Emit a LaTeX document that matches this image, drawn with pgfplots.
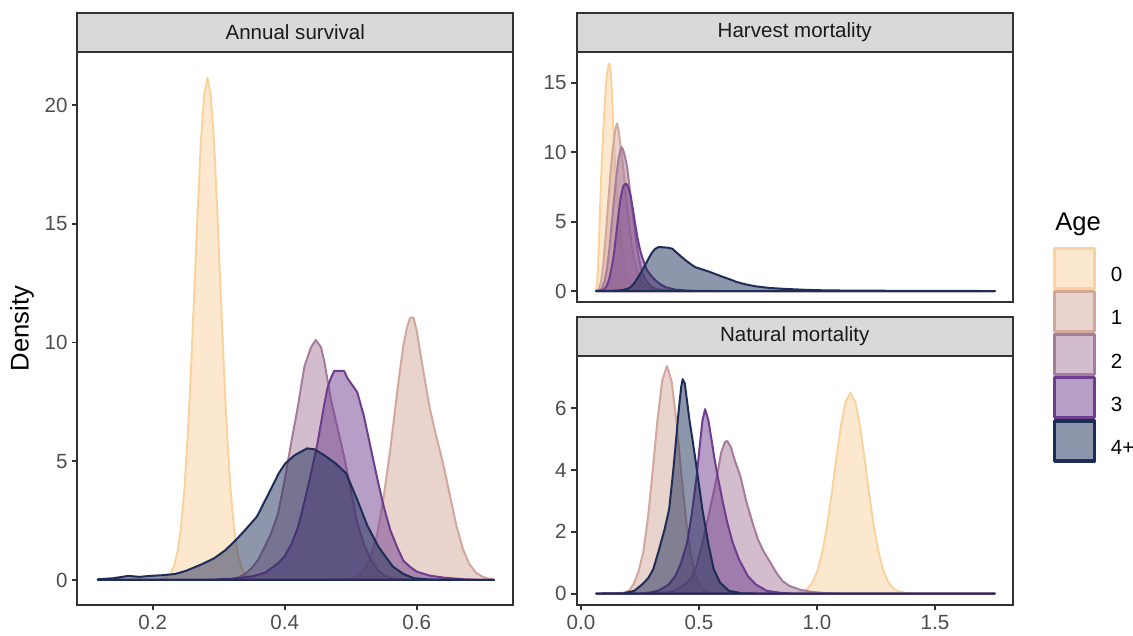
\documentclass[border=0pt]{standalone}
\usepackage{fontspec}
\setmainfont{Liberation Sans}
\usepackage{pgfplots}
\pgfplotsset{compat=1.18}
\definecolor{c0}{HTML}{F9D29E}
\definecolor{c1}{HTML}{D2A79C}
\definecolor{c2}{HTML}{A77B9C}
\definecolor{c3}{HTML}{6E3D8D}
\definecolor{c4}{HTML}{1E2D58}
\definecolor{axdark}{HTML}{333333}
\definecolor{tickgray}{HTML}{4D4D4D}
\definecolor{stripgray}{HTML}{D9D9D9}
\definecolor{striptext}{HTML}{1A1A1A}
\newcommand{\ticksize}{\fontsize{15.4}{18}\selectfont}
\newcommand{\titlesize}{\fontsize{19.2}{22}\selectfont}
\newcommand{\strip}[1]{%
  \draw[fill=stripgray, draw=axdark, line width=1.5pt] (rel axis cs:0,1) rectangle ([yshift=29.5pt]rel axis cs:1,1);
  \node[font=\ticksize, text=striptext, inner sep=0pt] at ([yshift=14.75pt]rel axis cs:0.5,1) {#1};}
\pgfplotsset{
  panel/.style={
    scale only axis, axis on top, clip=false,
    axis line style={draw=axdark, line width=1.5pt},
    every tick/.style={draw=axdark, line width=1.4pt},
    major tick length=4pt,
    tick align=outside,
    xtick pos=bottom, ytick pos=left,
    tick label style={font=\ticksize, text=tickgray},
    /pgf/number format/assume math mode=true,
    scaled ticks=false,
    x tick label style={/pgf/number format/fixed, /pgf/number format/fixed zerofill, /pgf/number format/precision=1},
  },
  d0/.style={draw=c0, fill=c0, fill opacity=0.5, draw opacity=1, line width=1.5pt, line join=round},
  d1/.style={draw=c1, fill=c1, fill opacity=0.5, draw opacity=1, line width=1.5pt, line join=round},
  d2/.style={draw=c2, fill=c2, fill opacity=0.5, draw opacity=1, line width=1.5pt, line join=round},
  d3/.style={draw=c3, fill=c3, fill opacity=0.5, draw opacity=1, line width=1.5pt, line join=round},
  d4/.style={draw=c4, fill=c4, fill opacity=0.5, draw opacity=1, line width=1.5pt, line join=round},
}
\begin{document}
\begin{tikzpicture}
\useasboundingbox (0pt,0pt) rectangle (849.75pt,477pt);

% ---------------- Annual survival ----------------
\begin{axis}[panel, at={(58.125pt,23.25pt)}, anchor=south west,
  width=326.625pt, height=414.75pt,
  xmin=0.0861, xmax=0.7459, ymin=-1.055, ymax=22.23,
  xtick={0.2,0.4,0.6}, ytick={0,5,10,15,20}]
\addplot[d0] coordinates {(0.117,0) (0.20,0) (0.213,0.02) (0.223,0.14) (0.228,0.31) (0.233,0.64) (0.238,1.24) (0.243,2.25) (0.248,3.8) (0.253,6.0) (0.258,8.82) (0.263,12.08) (0.268,15.43) (0.273,18.39) (0.278,20.42) (0.283,21.15) (0.288,20.42) (0.293,18.39) (0.298,15.43) (0.303,12.08) (0.308,8.82) (0.313,6.0) (0.318,3.8) (0.323,2.25) (0.328,1.24) (0.333,0.64) (0.338,0.31) (0.343,0.14) (0.353,0.02) (0.37,0) (0.717,0)} \closedcycle;
\addplot[d1] coordinates {(0.117,0) (0.46,0) (0.48,0.02) (0.50,0.06) (0.51,0.15) (0.52,0.4) (0.53,0.95) (0.54,1.9) (0.55,3.5) (0.56,5.5) (0.57,7.8) (0.575,8.9) (0.58,9.9) (0.585,10.6) (0.59,11.05) (0.595,11.05) (0.60,10.5) (0.61,8.8) (0.62,7.2) (0.63,6.0) (0.64,4.9) (0.65,3.6) (0.66,2.3) (0.67,1.3) (0.68,0.65) (0.69,0.3) (0.70,0.13) (0.71,0.05) (0.717,0.02)} \closedcycle;
\addplot[d2] coordinates {(0.117,0) (0.30,0) (0.32,0.03) (0.33,0.1) (0.34,0.25) (0.35,0.5) (0.36,0.85) (0.37,1.4) (0.38,2.0) (0.39,2.8) (0.40,4.2) (0.41,5.8) (0.42,7.3) (0.43,9.0) (0.435,9.4) (0.44,9.8) (0.447,10.1) (0.455,9.8) (0.46,9.2) (0.47,7.6) (0.48,6.4) (0.49,5.2) (0.50,3.8) (0.51,2.4) (0.52,1.5) (0.53,0.9) (0.54,0.45) (0.55,0.2) (0.56,0.08) (0.58,0.02) (0.60,0) (0.717,0)} \closedcycle;
\addplot[d3] coordinates {(0.117,0) (0.28,0) (0.32,0.05) (0.35,0.15) (0.37,0.3) (0.39,0.7) (0.40,1.0) (0.41,1.5) (0.42,2.2) (0.43,3.3) (0.44,4.5) (0.45,5.8) (0.46,7.4) (0.465,8.1) (0.47,8.5) (0.475,8.8) (0.49,8.8) (0.495,8.5) (0.505,8.1) (0.51,7.9) (0.52,6.9) (0.53,5.6) (0.54,4.3) (0.55,3.1) (0.56,2.1) (0.57,1.4) (0.58,0.8) (0.59,0.55) (0.60,0.35) (0.62,0.18) (0.64,0.1) (0.67,0.03) (0.70,0) (0.717,0)} \closedcycle;
\addplot[d4] coordinates {(0.117,0.03) (0.14,0.07) (0.163,0.17) (0.18,0.13) (0.196,0.17) (0.215,0.2) (0.234,0.25) (0.25,0.38) (0.272,0.63) (0.293,0.91) (0.31,1.25) (0.326,1.68) (0.34,2.1) (0.358,2.67) (0.375,3.6) (0.391,4.49) (0.401,4.91) (0.415,5.25) (0.434,5.54) (0.445,5.5) (0.46,5.25) (0.477,4.91) (0.493,4.49) (0.51,3.37) (0.525,2.3) (0.542,1.40) (0.555,0.9) (0.564,0.56) (0.58,0.25) (0.596,0.07) (0.62,0.02) (0.66,0.01) (0.717,0)} \closedcycle;
\strip{Annual survival}
\end{axis}

% ---------------- Harvest mortality ----------------
\begin{axis}[panel, at={(432.375pt,250.5pt)}, anchor=south west,
  width=327.375pt, height=187.5pt,
  xmin=-0.019, xmax=1.831, ymin=-0.79, ymax=17.23,
  xtick=\empty, ytick={0,5,10,15}]
\addplot[d0] coordinates {(0.064,0.05) (0.07,1.0) (0.075,2.8) (0.08,5.5) (0.085,8.0) (0.09,9.9) (0.095,11.7) (0.10,13.2) (0.105,14.6) (0.11,15.6) (0.115,16.2) (0.12,16.4) (0.125,16.0) (0.13,14.6) (0.135,12.6) (0.14,10.6) (0.145,9.0) (0.15,7.8) (0.16,5.6) (0.17,3.8) (0.18,2.4) (0.19,1.4) (0.20,0.8) (0.22,0.25) (0.24,0.06) (0.28,0.01) (0.32,0) (1.754,0)} \closedcycle;
\addplot[d1] coordinates {(0.064,0) (0.075,0.15) (0.085,0.7) (0.095,2.0) (0.105,4.0) (0.115,6.3) (0.125,8.5) (0.135,10.3) (0.145,11.6) (0.153,12.07) (0.16,11.5) (0.165,10.8) (0.175,9.6) (0.185,7.8) (0.195,6.2) (0.205,4.7) (0.215,3.3) (0.225,2.3) (0.24,1.3) (0.26,0.6) (0.28,0.3) (0.30,0.12) (0.33,0.04) (0.37,0.01) (0.42,0) (1.754,0)} \closedcycle;
\addplot[d2] coordinates {(0.064,0) (0.08,0.05) (0.09,0.25) (0.10,0.7) (0.11,1.6) (0.12,3.0) (0.13,4.8) (0.14,6.6) (0.15,8.3) (0.16,9.6) (0.17,10.4) (0.178,10.2) (0.185,9.8) (0.195,9.0) (0.205,7.6) (0.215,6.2) (0.225,4.8) (0.235,3.5) (0.245,2.4) (0.255,1.6) (0.27,0.9) (0.29,0.45) (0.31,0.2) (0.34,0.07) (0.38,0.02) (0.45,0) (1.754,0)} \closedcycle;
\addplot[d3] coordinates {(0.064,0) (0.09,0.05) (0.10,0.15) (0.11,0.4) (0.12,0.9) (0.13,1.7) (0.14,2.7) (0.15,4.2) (0.16,5.7) (0.17,6.9) (0.18,7.6) (0.19,7.74) (0.198,7.6) (0.21,6.9) (0.22,5.9) (0.23,4.8) (0.24,3.8) (0.25,3.0) (0.26,2.4) (0.28,1.5) (0.30,1.05) (0.32,0.7) (0.34,0.45) (0.36,0.27) (0.40,0.1) (0.45,0.03) (0.50,0.01) (0.6,0) (1.754,0)} \closedcycle;
\addplot[d4] coordinates {(0.064,0) (0.12,0.01) (0.15,0.03) (0.18,0.08) (0.20,0.18) (0.211,0.29) (0.225,0.55) (0.243,1.01) (0.26,1.5) (0.275,1.97) (0.29,2.45) (0.30,2.75) (0.315,3.05) (0.33,3.17) (0.35,3.15) (0.37,3.12) (0.387,3.05) (0.41,2.7) (0.435,2.33) (0.46,2.0) (0.483,1.73) (0.515,1.55) (0.547,1.37) (0.57,1.22) (0.595,1.06) (0.63,0.85) (0.66,0.65) (0.70,0.47) (0.74,0.34) (0.80,0.22) (0.868,0.15) (0.95,0.09) (1.03,0.05) (1.15,0.03) (1.3,0.02) (1.5,0.01) (1.754,0)} \closedcycle;
\strip{Harvest mortality}
\end{axis}

% ---------------- Natural mortality ----------------
\begin{axis}[panel, at={(432.375pt,23.25pt)}, anchor=south west,
  width=327.375pt, height=186.75pt,
  xmin=-0.019, xmax=1.831, ymin=-0.37, ymax=7.69,
  xtick={0,0.5,1,1.5}, ytick={0,2,4,6},
  legend cell align=left,
  legend image code/.code={\draw[#1, line width=2.4pt] (0pt,-9.5pt) rectangle (30pt,20.5pt);},
  legend style={at={(1.0916,1.439)}, anchor=north west, draw=none, fill=none,
    inner sep=0pt, outer sep=0pt, row sep=0pt, font=\ticksize, text=black,
    nodes={inner sep=0pt},
    /tikz/every odd column/.append style={column sep=11pt}}]
\addplot[d0] coordinates {(0.064,0) (0.90,0) (0.902,0.01) (0.942,0.08) (0.962,0.18) (0.982,0.38) (1.002,0.73) (1.022,1.31) (1.042,2.13) (1.062,3.19) (1.082,4.35) (1.102,5.44) (1.122,6.21) (1.142,6.5) (1.162,6.21) (1.182,5.44) (1.202,4.35) (1.222,3.19) (1.242,2.13) (1.262,1.31) (1.282,0.73) (1.302,0.38) (1.322,0.18) (1.342,0.08) (1.382,0.01) (1.42,0) (1.754,0)} \closedcycle;
\addlegendentry{0}
\addplot[d1] coordinates {(0.064,0) (0.15,0.01) (0.184,0.03) (0.204,0.1) (0.224,0.32) (0.244,0.72) (0.264,1.33) (0.284,2.46) (0.304,3.97) (0.324,5.60) (0.344,6.88) (0.364,7.37) (0.384,6.88) (0.404,5.60) (0.424,3.97) (0.444,2.46) (0.464,1.33) (0.484,0.62) (0.504,0.26) (0.524,0.09) (0.544,0.03) (0.6,0) (1.754,0)} \closedcycle;
\addlegendentry{1}
\addplot[d2] coordinates {(0.064,0) (0.25,0) (0.35,0.03) (0.40,0.1) (0.44,0.3) (0.467,0.5) (0.49,0.9) (0.515,1.65) (0.54,2.5) (0.563,3.3) (0.58,3.95) (0.594,4.56) (0.61,4.9) (0.62,4.94) (0.635,4.75) (0.65,4.35) (0.675,3.81) (0.70,3.0) (0.731,2.19) (0.75,1.75) (0.775,1.35) (0.803,1.0) (0.83,0.65) (0.855,0.4) (0.883,0.25) (0.93,0.12) (0.98,0.05) (1.05,0.01) (1.10,0) (1.754,0)} \closedcycle;
\addlegendentry{2}
\addplot[d3] coordinates {(0.064,0) (0.25,0) (0.29,0.03) (0.33,0.1) (0.37,0.28) (0.40,0.57) (0.425,1.0) (0.45,1.65) (0.47,2.6) (0.4905,3.81) (0.505,4.9) (0.515,5.6) (0.526,5.97) (0.54,5.6) (0.555,4.9) (0.565,4.4) (0.579,3.81) (0.60,3.0) (0.62,2.3) (0.643,1.65) (0.67,1.1) (0.707,0.57) (0.74,0.3) (0.787,0.09) (0.85,0.02) (0.9,0) (1.754,0)} \closedcycle;
\addlegendentry{3}
\addplot[d4] coordinates {(0.064,0) (0.18,0.01) (0.226,0.09) (0.26,0.3) (0.285,0.5) (0.3064,0.79) (0.33,1.4) (0.355,2.1) (0.3735,2.73) (0.39,3.9) (0.402,4.89) (0.415,6.0) (0.425,6.7) (0.431,6.94) (0.44,6.8) (0.45,6.2) (0.46,5.6) (0.4745,4.89) (0.495,3.8) (0.5145,2.73) (0.54,1.6) (0.5625,0.79) (0.59,0.35) (0.6266,0.09) (0.68,0.01) (0.75,0) (1.754,0)} \closedcycle;
\addlegendentry{4+}
\strip{Natural mortality}
\end{axis}

\node[font=\titlesize, rotate=90, inner sep=0pt] at (16.5pt,230.6pt) {Density};
\node[font=\titlesize, anchor=base west, inner sep=0pt] at (791.25pt,304pt) {Age};
\end{tikzpicture}
\end{document}
